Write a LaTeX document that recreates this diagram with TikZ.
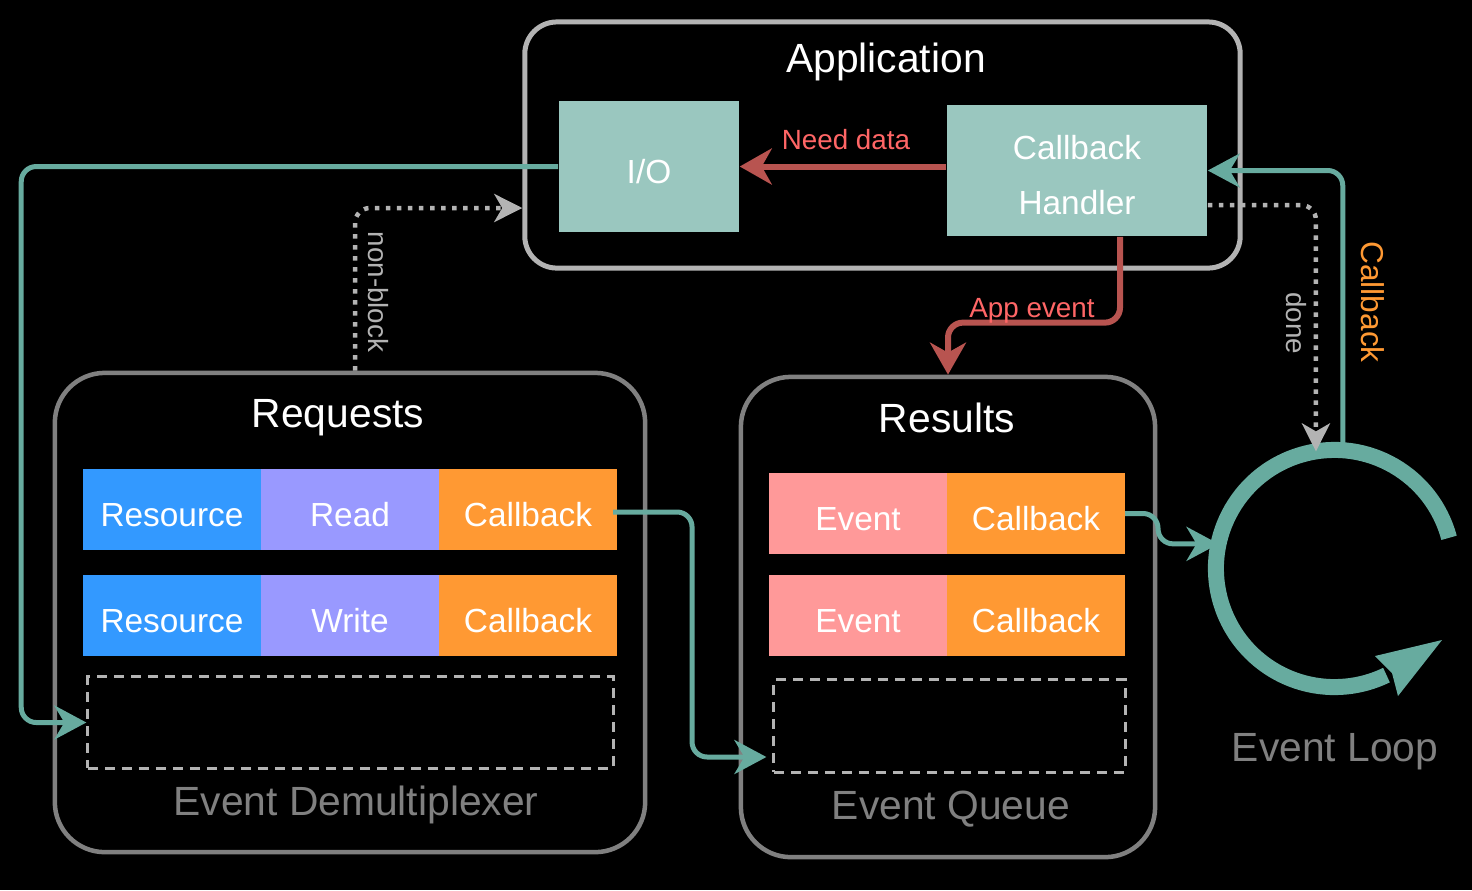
\documentclass[tikz,border=0pt]{standalone}
\usepackage{fontspec}
\setmainfont{Liberation Sans}
\usetikzlibrary{arrows.meta,calc}
\definecolor{tealc}{HTML}{67AB9F}
\definecolor{tealfill}{HTML}{9AC7BF}
\definecolor{redc}{HTML}{B85450}
\definecolor{redtxt}{HTML}{FF6666}
\definecolor{orangec}{HTML}{FF9933}
\definecolor{bluec}{HTML}{3399FF}
\definecolor{purplec}{HTML}{9999FF}
\definecolor{pinkc}{HTML}{FF9999}
\definecolor{boxgray}{HTML}{808080}
\definecolor{appgray}{HTML}{B3B3B3}
\definecolor{dashgray}{HTML}{B3B3B3}
\tikzset{
 bigtxt/.style={font=\fontsize{11.6}{14}\selectfont},
 midtxt/.style={font=\fontsize{9.5}{11.4}\selectfont},
 smalltxt/.style={font=\fontsize{7.9}{9.5}\selectfont},
 cell/.style={minimum width=1.78cm, minimum height=0.81cm, inner sep=0pt, outer sep=0pt, text=white, midtxt, text height=0.345cm, text depth=0cm},
 container/.style={draw=boxgray, line width=0.045cm, rounded corners=0.5cm, inner sep=0pt},
 queuebox/.style={draw=dashgray, line width=0.03cm, dash pattern=on 0.1cm off 0.07cm, inner sep=0pt},
 tealline/.style={draw=tealc, line width=0.05cm, rounded corners=0.15cm, -{Stealth[length=0.32cm,width=0.34cm,inset=0.1cm]}},
 redline/.style={draw=redc, line width=0.06cm, rounded corners=0.15cm, -{Stealth[length=0.32cm,width=0.36cm,inset=0.1cm]}},
 dotline/.style={draw=dashgray, line width=0.045cm, dash pattern=on 0.045cm off 0.065cm, rounded corners=0.15cm, -{Stealth[length=0.28cm,width=0.28cm,inset=0.08cm]}},
}
\begin{document}
\begin{tikzpicture}[x=0.01cm,y=0.01cm]
\fill[black] (0,0) rectangle (1472,-890);
\useasboundingbox (0,0) rectangle (1472,-890);

% Application
\node[draw=appgray, line width=0.05cm, rounded corners=0.32cm, minimum width=7.15cm, minimum height=2.46cm, inner sep=0pt] (app) at (882.5,-145) {};
\node[bigtxt, text=white] (apptitle) at (886,-62) {Application};
\node[fill=tealfill, minimum width=1.8cm, minimum height=1.31cm, inner sep=0pt, text=white, midtxt, text height=0.345cm, text depth=0cm] (io) at (649,-166.5) {I/O};
\node[fill=tealfill, minimum width=2.6cm, minimum height=1.31cm, inner sep=0pt] (cbh) at (1077,-170.5) {};
\node[midtxt, text=white] (cbhline1) at (1077,-148) {Callback};
\node[midtxt, text=white] (cbhline2) at (1077,-203) {Handler};

% Requests
\node[container, minimum width=5.9cm, minimum height=4.79cm] (req) at (350,-612.5) {};
\node[bigtxt, text=white] (reqtitle) at (338,-418) {Requests};
\node[cell, fill=bluec] (r1a) at (172,-509.5) {Resource};
\node[cell, fill=purplec] (r1b) at (350,-509.5) {Read};
\node[cell, fill=orangec] (r1c) at (528,-509.5) {Callback};
\node[cell, fill=bluec] (r2a) at (172,-615.5) {Resource};
\node[cell, fill=purplec] (r2b) at (350,-615.5) {Write};
\node[cell, fill=orangec] (r2c) at (528,-615.5) {Callback};
\node[queuebox, minimum width=5.25cm, minimum height=0.91cm] (dq1) at (350.5,-722.5) {};
\node[bigtxt, text=boxgray] (demux) at (356,-805) {Event Demultiplexer};

% Results
\node[container, minimum width=4.14cm, minimum height=4.8cm] (res) at (948,-617) {};
\node[bigtxt, text=white] (restitle) at (947,-418) {Results};
\node[cell, fill=pinkc] (e1) at (858,-513.5) {Event};
\node[cell, fill=orangec] (e1c) at (1036,-513.5) {Callback};
\node[cell, fill=pinkc] (e2) at (858,-615.5) {Event};
\node[cell, fill=orangec] (e2c) at (1036,-615.5) {Callback};
\node[queuebox, minimum width=3.51cm, minimum height=0.92cm] (dq2) at (949.5,-726) {};
\node[bigtxt, text=boxgray] (eq) at (951,-809) {Event Queue};

% Event loop
\node[circle, minimum size=2.37cm, inner sep=0pt, outer sep=0pt] (loop) at (1334.5,-568.5) {};
\draw[tealc, line width=0.16cm] (loop.15) arc[start angle=15, end angle=296, radius=1.185cm];
\fill[tealc] (1442,-640) -- (1375,-656) -- (1392,-673) -- (1398,-696) -- cycle;
\node[bigtxt, text=boxgray] (looplabel) at (1335,-752) {Event Loop};

% Connectors
\draw[redline] (cbh.west |- io.east) -- (io.east);
\node[smalltxt, text=redtxt] (ndlabel) at (846,-140) {Need data};
\draw[redline] ($(cbh.south)+(43,0)$) |- ($(res.north)+(0,52)$) -- (res.north);
\node[smalltxt, text=redtxt] (aelabel) at (1032,-311) {App event};

\draw[tealline] (io.west) -- ++(-537,0) |- (dq1.west);
\draw[dotline] ($(req.north)+(5,0)$) |- ($(app.west)+(0,-63)$);
\node[smalltxt, text=dashgray, rotate=-90] (nblabel) at (378,-292) {non-block};

\draw[dotline] ($(cbh.east)+(0,-34.5)$) -| (loop.99.5);
\node[smalltxt, text=dashgray, rotate=-90] (donelabel) at (1296,-323) {done};

\draw[tealline] (loop.86) |- (cbh.east);
\node[font=\fontsize{9}{11}\selectfont, text=orangec, rotate=-90] (cblabel) at (1373,-302) {Callback};

\draw[tealline] ($(r1c.east)+(-4,-2.5)$) -- ++(79,0) |- ($(dq2.west)+(-6,-31)$);
\draw[tealline] (e1c.east) -- ++(33,0) |- (loop.168);
\end{tikzpicture}
\end{document}
